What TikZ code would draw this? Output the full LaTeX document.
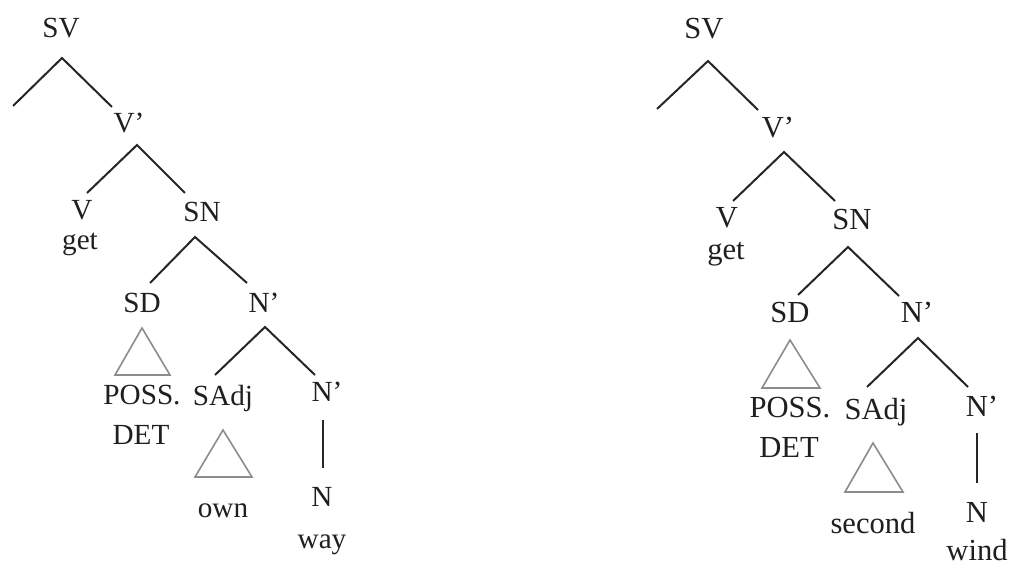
\documentclass[tikz,border=0pt]{standalone}
\usepackage{fontspec}
\setmainfont{Liberation Serif}
\tikzstyle{lab} = [inner sep=0pt,anchor=base,text=black!88,font=\fontsize{14.6}{17}\selectfont]
\tikzstyle{labR} = [lab,font=\fontsize{15.3}{18}\selectfont]
\tikzstyle{branch} = [draw=black!85,line width=1pt]
\tikzstyle{tri} = [draw=black!45,line width=0.8pt,line join=miter]

\begin{document}
\begin{tikzpicture}[x=0.5pt,y=-0.5pt]
    \useasboundingbox (0,0) rectangle (1010,565);

    % Left tree: labels
    \node[lab] (svA) at (61,38) {SV};
    \node[lab] (vbarA) at (129,133) {V'};
    \node[lab] (vA) at (82,220) {V};
    \node[lab] (getA) at (80,250) {get};
    \node[lab] (snA) at (202,222) {SN};
    \node[lab] (sdA) at (142,313) {SD};
    \node[lab] (nbarA) at (264,313) {N'};
    \node[lab] (possA) at (142,405) {POSS.};
    \node[lab] (detA) at (141,445) {DET};
    \node[lab] (sadjA) at (223,406) {SAdj};
    \node[lab] (nbbA) at (327,402) {N'};
    \node[lab] (ownA) at (223,517) {own};
    \node[lab] (nA) at (322,507) {N};
    \node[lab] (wayA) at (322,548) {way};

    % Left tree: branch points
    \coordinate (svA-t) at (62,58);
    \coordinate (svA-l) at (13,106);
    \coordinate (svA-r) at (112,107);
    \coordinate (vbarA-t) at (137,145);
    \coordinate (vbarA-l) at (87,193);
    \coordinate (vbarA-r) at (185,193);
    \coordinate (snA-t) at (195,237);
    \coordinate (snA-l) at (150,283);
    \coordinate (snA-r) at (247,283);
    \coordinate (nbarA-t) at (265,327);
    \coordinate (nbarA-l) at (215,375);
    \coordinate (nbarA-r) at (315,375);
    \coordinate (nbbA-t) at (323,420);
    \coordinate (nbbA-b) at (323,468);

    % Left tree: branches
    \draw[branch] (svA-l) -- (svA-t) -- (svA-r);
    \draw[branch] (vbarA-l) -- (vbarA-t) -- (vbarA-r);
    \draw[branch] (snA-l) -- (snA-t) -- (snA-r);
    \draw[branch] (nbarA-l) -- (nbarA-t) -- (nbarA-r);
    \draw[branch] (nbbA-t) -- (nbbA-b);

    % Left tree: triangles
    \coordinate (sdA-t) at (142,328);
    \coordinate (sdA-l) at (115,375);
    \coordinate (sdA-r) at (170,375);
    \coordinate (sadjA-t) at (223,430);
    \coordinate (sadjA-l) at (195,477);
    \coordinate (sadjA-r) at (252,477);
    \draw[tri] (sdA-t) -- (sdA-l) -- (sdA-r) -- cycle;
    \draw[tri] (sadjA-t) -- (sadjA-l) -- (sadjA-r) -- cycle;

    % Right tree: labels
    \node[labR] (svB) at (704,39) {SV};
    \node[labR] (vbarB) at (778,138) {V'};
    \node[labR] (vB) at (727,228) {V};
    \node[labR] (getB) at (726,260) {get};
    \node[labR] (snB) at (852,230) {SN};
    \node[labR] (sdB) at (790,323) {SD};
    \node[labR] (nbarB) at (917,323) {N'};
    \node[labR] (possB) at (790,418) {POSS.};
    \node[labR] (detB) at (789,458) {DET};
    \node[labR] (sadjB) at (876,420) {SAdj};
    \node[labR] (nbbB) at (982,417) {N'};
    \node[labR] (secondB) at (873,533) {second};
    \node[labR] (nB) at (977,523) {N};
    \node[labR] (windB) at (977,560) {wind};

    % Right tree: branch points
    \coordinate (svB-t) at (708,61);
    \coordinate (svB-l) at (657,109);
    \coordinate (svB-r) at (758,110);
    \coordinate (vbarB-t) at (784,152);
    \coordinate (vbarB-l) at (733,201);
    \coordinate (vbarB-r) at (835,201);
    \coordinate (snB-t) at (848,247);
    \coordinate (snB-l) at (798,295);
    \coordinate (snB-r) at (899,296);
    \coordinate (nbarB-t) at (918,338);
    \coordinate (nbarB-l) at (867,387);
    \coordinate (nbarB-r) at (968,387);
    \coordinate (nbbB-t) at (977,433);
    \coordinate (nbbB-b) at (977,483);

    % Right tree: branches
    \draw[branch] (svB-l) -- (svB-t) -- (svB-r);
    \draw[branch] (vbarB-l) -- (vbarB-t) -- (vbarB-r);
    \draw[branch] (snB-l) -- (snB-t) -- (snB-r);
    \draw[branch] (nbarB-l) -- (nbarB-t) -- (nbarB-r);
    \draw[branch] (nbbB-t) -- (nbbB-b);

    % Right tree: triangles
    \coordinate (sdB-t) at (790,340);
    \coordinate (sdB-l) at (762,388);
    \coordinate (sdB-r) at (820,388);
    \coordinate (sadjB-t) at (873,443);
    \coordinate (sadjB-l) at (845,492);
    \coordinate (sadjB-r) at (903,492);
    \draw[tri] (sdB-t) -- (sdB-l) -- (sdB-r) -- cycle;
    \draw[tri] (sadjB-t) -- (sadjB-l) -- (sadjB-r) -- cycle;
\end{tikzpicture}
\end{document}
